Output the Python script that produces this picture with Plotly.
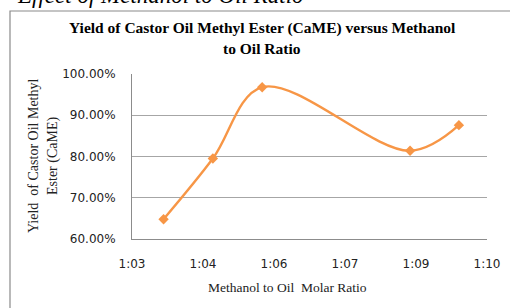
import plotly.graph_objects as go

# Data (x in minutes of an Excel time axis h:mm; y as fraction)
ratio_x = [63.64, 64.64, 65.64, 68.64, 69.63]
yield_y = [0.648, 0.795, 0.968, 0.814, 0.876]

x_tick_vals = [63.0, 64.44, 65.88, 67.32, 68.76, 70.2]
x_tick_text = ["1:03", "1:04", "1:06", "1:07", "1:09", "1:10"]
y_tick_vals = [0.6, 0.7, 0.8, 0.9, 1.0]

W, H = 510, 308
L, R, T, B = 132, 487, 74, 239


def px(x):
    return (x - L) / (R - L)


def py(y):
    return (B - y) / (B - T)


orange = "#F79646"
serif = "Liberation Serif, Times New Roman, serif"
sans = "DejaVu Sans, Verdana, sans-serif"

fig = go.Figure()
fig.add_trace(go.Scatter(
    x=ratio_x, y=yield_y, mode="lines+markers",
    line=dict(color=orange, width=2.4, shape="spline", smoothing=1.0),
    marker=dict(symbol="diamond", size=8, color=orange),
    showlegend=False, cliponaxis=False,
))

fig.update_layout(
    width=W, height=H,
    margin=dict(l=L, r=W - R, t=T, b=H - B, autoexpand=False),
    paper_bgcolor="white", plot_bgcolor="white",
    xaxis=dict(range=[x_tick_vals[0], x_tick_vals[-1]], tickvals=x_tick_vals,
               ticktext=x_tick_text, showgrid=False, zeroline=False,
               showline=True, linecolor="#8c8c8c", linewidth=1,
               ticks="", tickfont=dict(family=sans, size=12, color="#222"),
               ticklabelstandoff=14, automargin=False),
    yaxis=dict(range=[0.6, 1.0], tickvals=y_tick_vals, tickformat=".2%",
               showgrid=True, gridcolor="#a6a6a6", gridwidth=1,
               zeroline=False, showline=True, linecolor="#8c8c8c", linewidth=1,
               ticks="", tickfont=dict(family=sans, size=12, color="#222"),
               ticklabelstandoff=13, automargin=False),
    shapes=[dict(type="rect", xref="paper", yref="paper",
                 x0=px(10), x1=px(530), y0=py(11), y1=py(330),
                 line=dict(color="#8a8a8a", width=1.2), layer="below")],
)

anns = [
    dict(text="Effect of Methanol to Oil Ratio", x=px(306), y=py(-5),
         xanchor="right", yanchor="middle",
         font=dict(family=serif, size=23, color="black", style="italic")),
    dict(text="<b>Yield of Castor Oil Methyl Ester (CaME) versus Methanol</b>",
         x=px(262), y=py(28), xanchor="center", yanchor="middle",
         font=dict(family=serif, size=15.5, color="black")),
    dict(text="<b>to Oil Ratio</b>", x=px(262), y=py(49), xanchor="center",
         yanchor="middle", font=dict(family=serif, size=15.5, color="black")),
    dict(text="Yield  of Castor Oil Methyl", x=px(33), y=py(156), textangle=-90,
         xanchor="center", yanchor="middle",
         font=dict(family=serif, size=14, color="#222")),
    dict(text="Ester (CaME)", x=px(53), y=py(156), textangle=-90,
         xanchor="center", yanchor="middle",
         font=dict(family=serif, size=14, color="#222")),
    dict(text="Methanol to Oil  Molar Ratio", x=px(287), y=py(287),
         xanchor="center", yanchor="middle",
         font=dict(family=serif, size=13.5, color="#222")),
]
for a in anns:
    a.update(xref="paper", yref="paper", showarrow=False)
fig.update_layout(annotations=anns)

fig.write_html("out.html", config={"displayModeBar": False},
               post_script="document.body.style.margin='0';")
